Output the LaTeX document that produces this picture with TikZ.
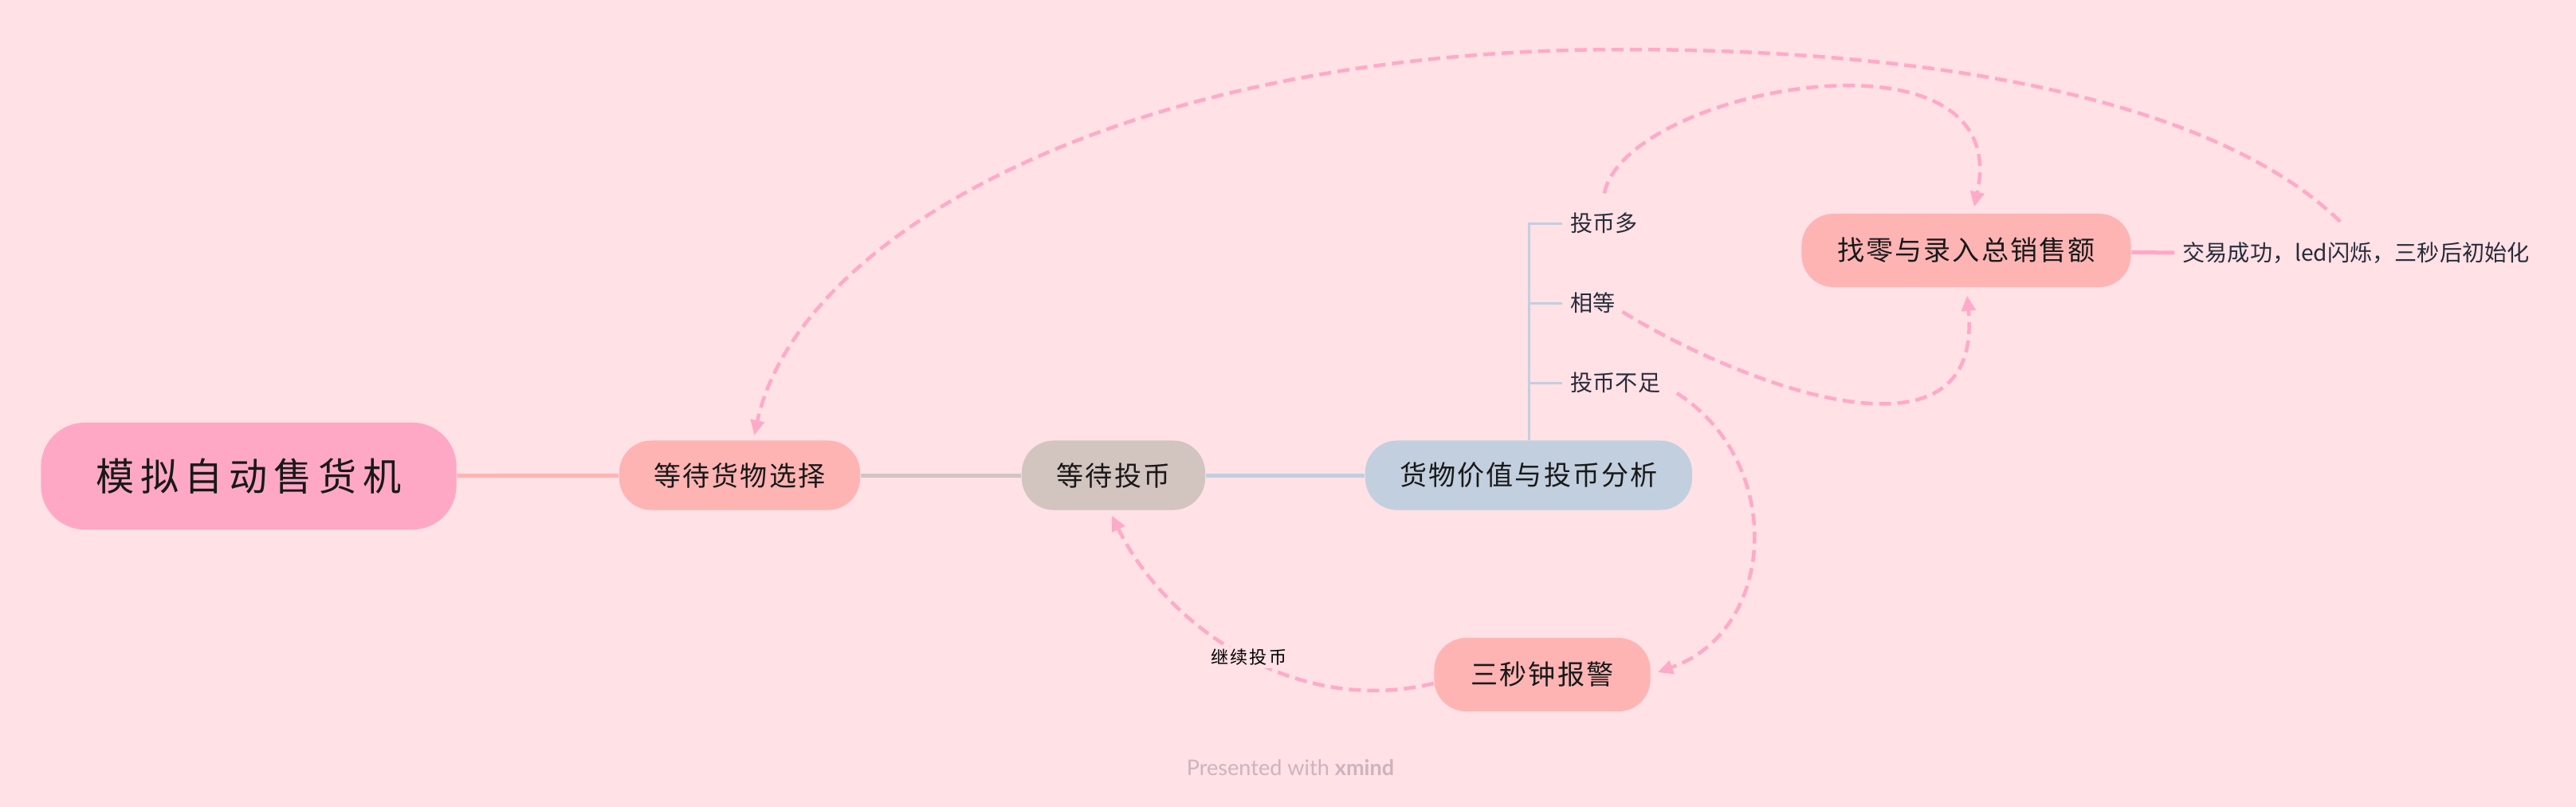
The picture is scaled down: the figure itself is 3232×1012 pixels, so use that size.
\documentclass[tikz,border=0pt]{standalone}
\usepackage{fontspec}
\setmainfont{Noto Sans CJK SC}
\newfontfamily\handfont[LetterSpace=6]{Noto Sans CJK SC}
\newfontfamily\roothand[LetterSpace=16]{Noto Sans CJK SC}
\newfontfamily\notehand[LetterSpace=10]{Noto Sans CJK SC}
\newfontfamily\footfont{Lato}
\usetikzlibrary{arrows.meta}
\definecolor{bgpink}{RGB}{255,225,230}
\definecolor{rootpink}{RGB}{255,168,197}
\definecolor{salmon}{RGB}{255,180,180}
\definecolor{taupe}{RGB}{210,196,191}
\definecolor{slateblue}{RGB}{194,207,222}
\definecolor{relpink}{RGB}{255,170,200}
\definecolor{labelgrey}{RGB}{40,44,58}
\definecolor{footgrey}{RGB}{205,180,188}

\begin{document}
\begin{tikzpicture}[x=0.01cm, y=-0.01cm,
  topic/.style={rounded corners=0.4cm, minimum height=0.87cm, inner sep=0pt, text=black!90,
    font=\handfont\fontsize{9.7pt}{11pt}\selectfont},
  sub/.style={anchor=west, inner sep=0pt, text=labelgrey, font=\fontsize{8pt}{10pt}\selectfont},
  branch/.style={line width=0.05cm},
  twig/.style={line width=0.03cm, slateblue},
  rel/.style={relpink, line width=0.045cm, dash pattern=on 0.15cm off 0.08cm,
    -{Triangle[length=0.19cm,width=0.17cm]}}]

\fill[bgpink] (0,0) rectangle (3232,1012);

\node (root) at (312,597) [topic, fill=rootpink, minimum width=5.21cm, minimum height=1.34cm,
  rounded corners=0.55cm, font=\roothand\fontsize{13.7pt}{16pt}\selectfont]{模拟自动售货机};
\node (pick) at (928,596) [topic, fill=salmon, minimum width=3.02cm]{等待货物选择};
\node (coin) at (1397,596) [topic, fill=taupe, minimum width=2.30cm]{等待投币};
\node (check) at (1918,596) [topic, fill=slateblue, minimum width=4.10cm]{货物价值与投币分析};
\node (change) at (2467,314) [topic, fill=salmon, minimum width=4.13cm, minimum height=0.92cm]{找零与录入总销售额};
\node (alarm) at (1935,846) [topic, fill=salmon, minimum width=2.71cm, minimum height=0.92cm]{三秒钟报警};

\node (more) at (1970,280) [sub]{投币多};
\node (equal) at (1970,380) [sub]{相等};
\node (less) at (1970,480) [sub]{投币不足};
\node (done) at (2738,317) [sub]{交易成功，led闪烁，三秒后初始化};

\draw[branch, salmon] (root) -- (pick);
\draw[branch, taupe] (pick) -- (coin);
\draw[branch, slateblue] (coin) -- (check);
\draw[branch, rootpink] (change) -- ([xshift=-0.1cm]done.west);
\draw[twig] (check.north) -- (check.north |- more.west) -- ([xshift=-0.1cm]more.west);
\draw[twig] (check.north |- equal.west) -- ([xshift=-0.1cm]equal.west);
\draw[twig] (check.north |- less.west) -- ([xshift=-0.1cm]less.west);

\draw[rel, shorten >=0.06cm] ([shift={(-20,-25)}]done.north) .. controls (2782,128) and (2438,62) .. (2038,62)
  .. controls (1400,62) and (1000,300) .. ([xshift=0.17cm]pick.north);
\draw[rel, shorten >=0.08cm] ([yshift=0.24cm]more.north) .. controls (2040,110) and (2530,20) .. ([xshift=0.08cm]change.north);
\draw[rel, shorten >=0.1cm] ([shift={(8,11)}]equal.east) .. controls (2180,480) and (2490,600) .. (change.south);
\draw[rel, shorten >=0.09cm] ([shift={(20,13)}]less.east) .. controls (2240,580) and (2230,790) .. (alarm.east);
\draw[rel, shorten >=0.07cm] ([yshift=-0.11cm]alarm.west) .. controls (1620,900) and (1460,780) .. ([xshift=-0.05cm]coin.south)
  node[pos=0.47, fill=bgpink, inner sep=1pt, text=black, font=\notehand\fontsize{6.3pt}{8pt}\selectfont] (goon) {继续投币};

\node (credit) at (1619,963) [text=footgrey, font=\footfont\fontsize{7.7pt}{9pt}\selectfont]{Presented with {\bfseries xmind}};

\end{tikzpicture}
\end{document}
